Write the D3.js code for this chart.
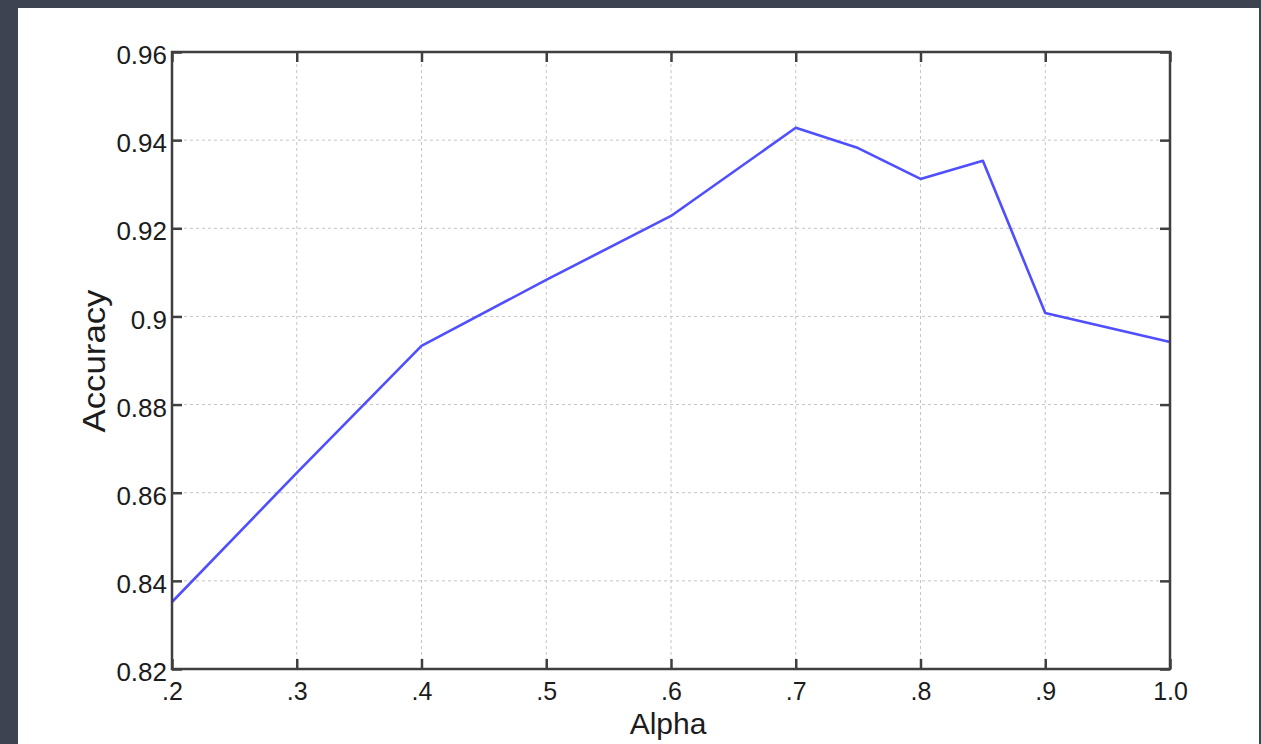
<!DOCTYPE html>
<html>
<head>
<meta charset="utf-8">
<script src="https://cdn.jsdelivr.net/npm/d3@7"></script>
<style>
  html, body { margin: 0; padding: 0; background: #3e4351; }
  #chart { width: 1261px; height: 744px; }
  text { font-family: "Liberation Sans", Arial, sans-serif; fill: #1c1c1c; }
</style>
</head>
<body>
<div id="chart"></div>
<script>
// values
const alpha = [0.2, 0.3, 0.4, 0.5, 0.6, 0.7, 0.75, 0.8, 0.85, 0.9, 1.0];
const accuracy = [0.8352, 0.8645, 0.8933, 0.9083, 0.9228, 0.9428, 0.9382, 0.9312, 0.9353, 0.9008, 0.8942];

const xTicks = [0.2, 0.3, 0.4, 0.5, 0.6, 0.7, 0.8, 0.9, 1.0];
const xTickLabels = ['.2', '.3', '.4', '.5', '.6', '.7', '.8', '.9', '1.0'];
const yTicks = [0.82, 0.84, 0.86, 0.88, 0.9, 0.92, 0.94, 0.96];
const yTickLabels = ['0.82', '0.84', '0.86', '0.88', '0.9', '0.92', '0.94', '0.96'];

const width = 1261;
const height = 744;
const margin = { top: 52, right: 91, bottom: 75, left: 172 };
const innerW = width - margin.left - margin.right;
const innerH = height - margin.top - margin.bottom;

const svg = d3.select('#chart')
  .append('svg')
  .attr('width', width)
  .attr('height', height);

// white sheet on the dark backdrop
svg.append('rect')
  .attr('x', 18)
  .attr('y', 8)
  .attr('width', 1241)
  .attr('height', height - 8)
  .attr('fill', '#ffffff');

const x = d3.scaleLinear().domain([0.2, 1.0]).range([0, innerW]);
const y = d3.scaleLinear().domain([0.82, 0.96]).range([innerH, 0]);

const g = svg.append('g')
  .attr('transform', `translate(${margin.left}, ${margin.top})`);

// dotted grid
const grid = g.append('g')
  .style('stroke', '#c4c4c4')
  .style('stroke-width', '1px')
  .style('stroke-dasharray', '3,3');
grid.selectAll('line.vx')
  .data(xTicks.slice(1, -1))
  .enter()
  .append('line')
  .attr('x1', d => x(d))
  .attr('x2', d => x(d))
  .attr('y1', 0)
  .attr('y2', innerH);
grid.selectAll('line.hy')
  .data(yTicks.slice(1, -1))
  .enter()
  .append('line')
  .attr('x1', 0)
  .attr('x2', innerW)
  .attr('y1', d => y(d))
  .attr('y2', d => y(d));

// inward ticks on all four sides
const tickLen = 10;
const axisStyle = sel => {
  sel.select('.domain').remove();
  sel.selectAll('.tick line').attr('stroke', '#3f3f3f').attr('stroke-width', 2.5);
  sel.selectAll('.tick text').style('font-size', '26px').attr('fill', '#1c1c1c');
};

g.append('g')
  .attr('transform', `translate(0, ${innerH})`)
  .call(d3.axisBottom(x).tickValues(xTicks).tickSize(-tickLen)
    .tickFormat((d, i) => xTickLabels[i]))
  .call(axisStyle)
  .call(s => s.selectAll('.tick text')
    .style('font-size', '25px')
    .attr('dy', null)
    .attr('y', 31));

g.append('g')
  .call(d3.axisTop(x).tickValues(xTicks).tickSize(-tickLen).tickFormat(''))
  .call(axisStyle);

g.append('g')
  .call(d3.axisLeft(y).tickValues(yTicks).tickSize(-tickLen).tickPadding(5)
    .tickFormat((d, i) => yTickLabels[i]))
  .call(axisStyle)
  .call(s => s.selectAll('.tick text').attr('dy', '0.45em'));

g.append('g')
  .attr('transform', `translate(${innerW}, 0)`)
  .call(d3.axisRight(y).tickValues(yTicks).tickSize(-tickLen).tickFormat(''))
  .call(axisStyle);

// the curve
const line = d3.line()
  .x((d, i) => x(alpha[i]))
  .y(d => y(d));
g.append('path')
  .datum(accuracy)
  .attr('d', line)
  .attr('fill', 'none')
  .attr('stroke', '#4f4fff')
  .attr('stroke-width', 2.6)
  .attr('stroke-linejoin', 'round');

// frame
g.append('rect')
  .attr('width', innerW)
  .attr('height', innerH)
  .attr('fill', 'none')
  .attr('stroke', '#3f3f3f')
  .attr('stroke-width', 2.5);

// axis titles
svg.append('text')
  .attr('x', 668)
  .attr('y', 734)
  .attr('text-anchor', 'middle')
  .style('font-size', '30px')
  .text('Alpha');

svg.append('text')
  .attr('transform', 'translate(105, 361) rotate(-90)')
  .attr('text-anchor', 'middle')
  .attr('textLength', 143)
  .attr('lengthAdjust', 'spacingAndGlyphs')
  .style('font-size', '32px')
  .text('Accuracy');
</script>
</body>
</html>
